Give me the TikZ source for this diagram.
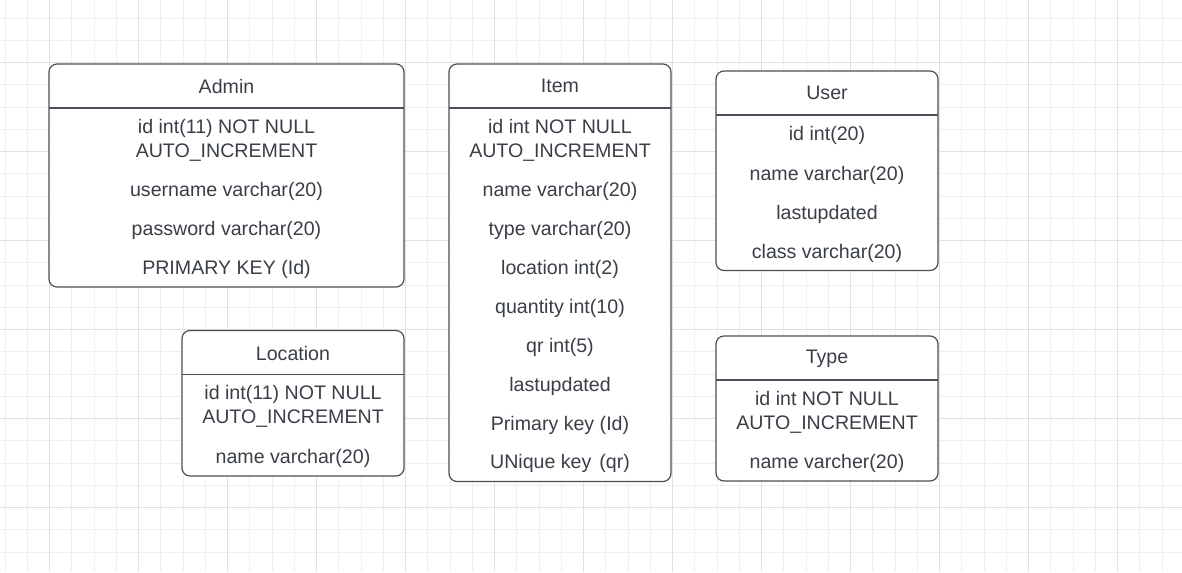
\documentclass[tikz,border=0pt]{standalone}
\usepackage{fontspec}
\setmainfont{Liberation Sans}
\definecolor{gridminor}{HTML}{EFEFEF}
\definecolor{gridmajor}{HTML}{E0E0E0}
\definecolor{tableline}{HTML}{4A4F57}
\definecolor{tabletext}{HTML}{3A3F47}

\begin{document}
\begin{tikzpicture}[x=0.75pt,y=-0.75pt,
    tablebox/.style={draw=tableline,line width=0.9pt,rounded corners=6pt,fill=white},
    tablerule/.style={draw=tableline,line width=0.9pt},
    field/.style={text=tabletext,font=\fontsize{14.7}{17.6}\selectfont,align=center,inner sep=0pt,yshift=-1.5pt}]
    % Background/grid
    \fill[white] (0,0) rectangle (1182,572);
    \useasboundingbox (0,0) rectangle (1182,572);
    \foreach \k in {0,...,53} \draw[gridminor,line width=0.75pt] ({5.05+22.25*\k},0)--({5.05+22.25*\k},572);
    \foreach \k in {0,...,24} \draw[gridminor,line width=0.75pt] (0,{18.2+22.25*\k})--(1182,{18.2+22.25*\k});
    \foreach \k in {0,...,12} \draw[gridmajor,line width=0.75pt] ({49.3+89*\k},0)--({49.3+89*\k},572);
    \foreach \k in {0,...,5} \draw[gridmajor,line width=0.75pt] (0,{62.7+89*\k})--(1182,{62.7+89*\k});
    % Admin
    \draw[tablebox] (49,64) rectangle (404,287);
    \draw[tablerule] (49,108)--(404,108);
    \node[field] (admin) at (226.5,84) {Admin};
    \node[field] (adminid) at (226.5,138.5) {id int(11) NOT NULL\\AUTO\_INCREMENT};
    \node[field] (adminuser) at (226.5,189) {username varchar(20)};
    \node[field] (adminpass) at (226.5,228) {password varchar(20)};
    \node[field] (adminkey) at (226.5,267) {PRIMARY KEY (Id)};
    % Item
    \draw[tablebox] (449,64) rectangle (671,481.5);
    \draw[tablerule] (449,108)--(671,108);
    \node[field] (item) at (560,84) {Item};
    \node[field] (itemid) at (560,138.5) {id int NOT NULL\\AUTO\_INCREMENT};
    \node[field] (itemname) at (560,189) {name varchar(20)};
    \node[field] (itemtype) at (560,228) {type varchar(20)};
    \node[field] (itemloc) at (560,267) {location int(2)};
    \node[field] (itemqty) at (560,306) {quantity int(10)};
    \node[field] (itemqr) at (560,345) {qr int(5)};
    \node[field] (itemupd) at (560,384) {lastupdated};
    \node[field] (itemkey) at (560,423) {Primary key (Id)};
    \node[field] (itemuniq) at (560,461.5) {UNique key\hspace{6pt}(qr)};
    % User
    \draw[tablebox] (716,71) rectangle (938,270.5);
    \draw[tablerule] (716,115)--(938,115);
    \node[field] (user) at (827,91) {User};
    \node[field] (userid) at (827,133.5) {id int(20)};
    \node[field] (username) at (827,173) {name varchar(20)};
    \node[field] (userupd) at (827,212) {lastupdated};
    \node[field] (userclass) at (827,251) {class varchar(20)};
    % Location
    \draw[tablebox] (182,330.5) rectangle (404,476);
    \draw[tablerule] (182,374.5)--(404,374.5);
    \node[field] (location) at (293,351) {Location};
    \node[field] (locid) at (293,404.5) {id int(11) NOT NULL\\AUTO\_INCREMENT};
    \node[field] (locname) at (293,456) {name varchar(20)};
    % Type
    \draw[tablebox] (716,336) rectangle (938,481);
    \draw[tablerule] (716,380)--(938,380);
    \node[field] (type) at (827,356.5) {Type};
    \node[field] (typeid) at (827,410.5) {id int NOT NULL\\AUTO\_INCREMENT};
    \node[field] (typename) at (827,461.5) {name varcher(20)};
\end{tikzpicture}
\end{document}
